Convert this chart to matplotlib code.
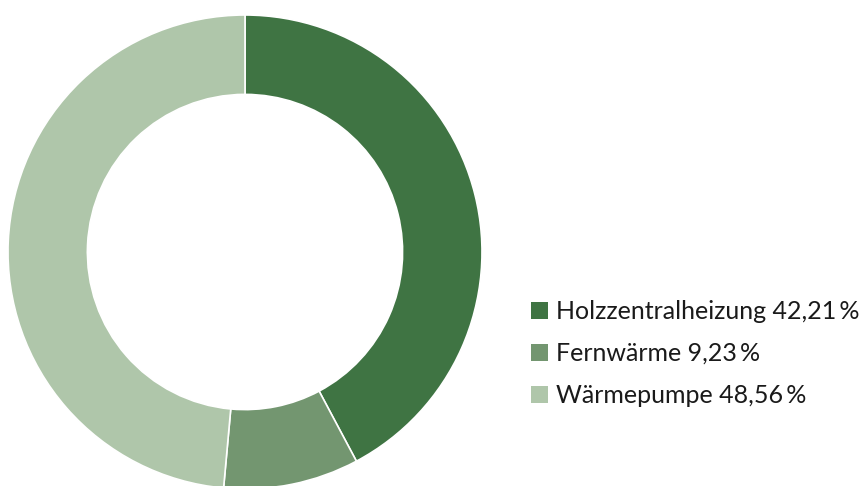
import matplotlib.pyplot as plt
from matplotlib.patches import Patch

labels = ['Holzzentralheizung', 'Fernwärme', 'Wärmepumpe']
values = [42.21, 9.23, 48.56]
colors = ['#3f7443', '#739670', '#afc6aa']

plt.rcParams['font.family'] = ['Lato', 'DejaVu Sans']

W, H = 865, 486
fig = plt.figure(figsize=(W / 100, H / 100), dpi=100)

# pie centre and radius in pixels
cx, cy, r = 245, 252, 237
ax = fig.add_axes([(cx - r) / W, (H - cy - r) / H, 2 * r / W, 2 * r / H])
ax.pie(values, colors=colors, startangle=90, counterclock=False, radius=1,
       wedgeprops=dict(width=0.335, edgecolor='white', linewidth=1.2))
ax.set_xlim(-1, 1)
ax.set_ylim(-1, 1)
ax.set_aspect('equal')
ax.axis('off')

handles = [Patch(facecolor=c, edgecolor='none') for c in colors]
texts = [f'{l} {v:.2f}'.replace('.', ',') + '\u2009%' for l, v in zip(labels, values)]
leg = fig.legend(handles, texts, loc='upper left',
                 bbox_to_anchor=(531 / W, 1 - 300 / H),
                 frameon=False, fontsize=18, handlelength=0.68, handleheight=0.68,
                 handletextpad=0.32, labelspacing=0.76, borderpad=0, borderaxespad=0)
for t in leg.get_texts():
    t.set_color('#1a1a1a')

fig.savefig('out.png', dpi=100)
